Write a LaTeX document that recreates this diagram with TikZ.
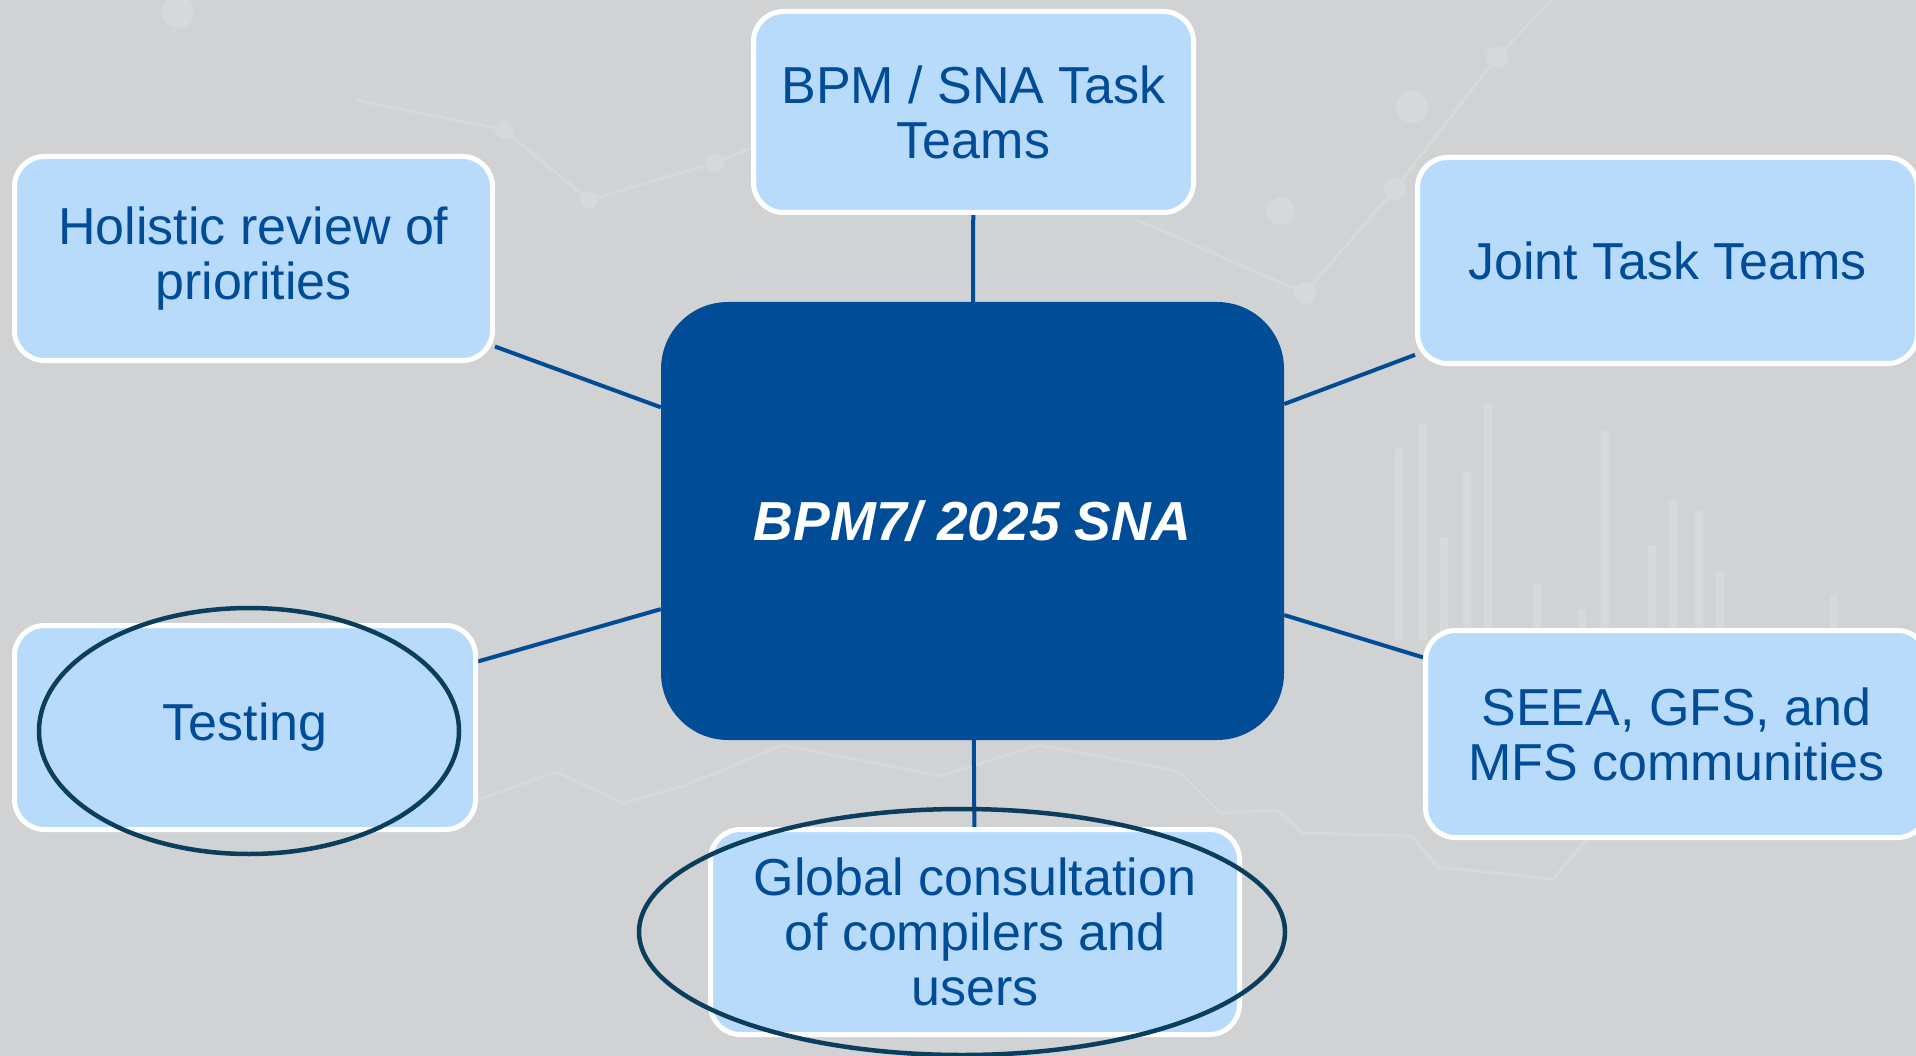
\documentclass[tikz,border=0pt]{standalone}
\usepackage{fontspec}
\setmainfont{Liberation Sans}
\usetikzlibrary{shapes.geometric}
\definecolor{bgc}{RGB}{209,210,211}
\definecolor{decoc}{RGB}{214,217,218}
\definecolor{navy}{RGB}{0,76,151}
\definecolor{lightblue}{RGB}{184,219,252}
\definecolor{ringc}{RGB}{10,62,92}
\pgfdeclarelayer{bglayer}
\pgfdeclarelayer{linklayer}
\pgfsetlayers{bglayer,linklayer,main}
\begin{document}
\begin{tikzpicture}[x=1pt,y=-1pt,
  box/.style={rectangle, rounded corners=30pt, fill=lightblue, draw=white, line width=5pt,
    text=navy, align=center, inner sep=0pt, font=\fontsize{52}{55}\selectfont},
  hub/.style={rectangle, rounded corners=67pt, fill=navy, text=white, inner sep=0pt,
    font=\fontsize{55}{58}\selectfont\bfseries\itshape},
  link/.style={draw=navy, line width=4pt},
  ring/.style={ellipse, draw=ringc, line width=4.5pt, inner sep=0pt},
  decoline/.style={draw=decoc, line width=3pt, line join=round},
  decobar/.style={fill=decoc}]

\useasboundingbox (0,0) rectangle (1916,1056);

% nodes
\node[hub, minimum width=623pt, minimum height=438pt] (hub) at (972.5,521) {BPM7/ 2025 SNA};
\node[box, minimum width=440pt, minimum height=201pt] (bpm) at (973.5,112) {BPM / SNA Task\\Teams};
\node[box, minimum width=478pt, minimum height=204pt] (hol) at (253.5,258.5) {Holistic review of\\priorities};
\node[box, minimum width=500pt, minimum height=206pt] (joint) at (1667.5,260.5) {Joint Task Teams};
\node[box, minimum width=461pt, minimum height=204pt] (test) at (245,727.5) {Testing};
\node[box, minimum width=502pt, minimum height=207pt] (seea) at (1676.5,734) {SEEA, GFS, and\\MFS communities};
\node[box, minimum width=529pt, minimum height=205pt] (glob) at (975,932) {Global consultation\\of compilers and\\users};

% highlight rings
\node[ring, minimum width=420pt, minimum height=246pt] (testring) at (249,731) {};
\node[ring, minimum width=646pt, minimum height=246pt] (globring) at (962,932) {};

% connectors
\begin{pgfonlayer}{linklayer}
\draw[link] (hub) -- (bpm);
\draw[link] (hub) -- (hol);
\draw[link] (hub) -- (joint);
\draw[link] (hub) -- (test);
\draw[link] (hub) -- (seea);
\draw[link] (hub) -- (glob);
\end{pgfonlayer}

% background
\begin{pgfonlayer}{bglayer}
\fill[bgc] (0,0) rectangle (1916,1056);
% faint network
\draw[decoline] (356,100) -- (504,130) -- (589,200) -- (715,163) -- (770,140);
\fill[decoc] (504,130) circle (9) (589,200) circle (9) (715,163) circle (9);
\fill[decoc] (178,12) circle (16);
\draw[decoline] (1552,0) -- (1497,57) -- (1395,189) -- (1305,293) -- (1137,220);
\fill[decoc] (1497,57) circle (11) (1395,189) circle (11) (1305,293) circle (11)
  (1412,107) circle (16) (1281,211) circle (14);
% faint bars
\foreach \bx/\by in {1399/449,1423/423,1444/537,1467/472,1488/403,1537/583,1582/610,
  1605/430,1652/545,1673/500,1699/511,1720/572,1834/595}
  \fill[decobar] (\bx-4,\by) rectangle (\bx+4,640);
% faint chart line
\draw[decoline] (477,800) -- (556,772) -- (623,803) -- (684,786) -- (782,745) -- (941,776)
  -- (1039,745) -- (1178,771) -- (1220,813) -- (1277,810) -- (1303,833) -- (1412,836)
  -- (1438,867) -- (1553,879) -- (1620,800);
\end{pgfonlayer}
\end{tikzpicture}
\end{document}
